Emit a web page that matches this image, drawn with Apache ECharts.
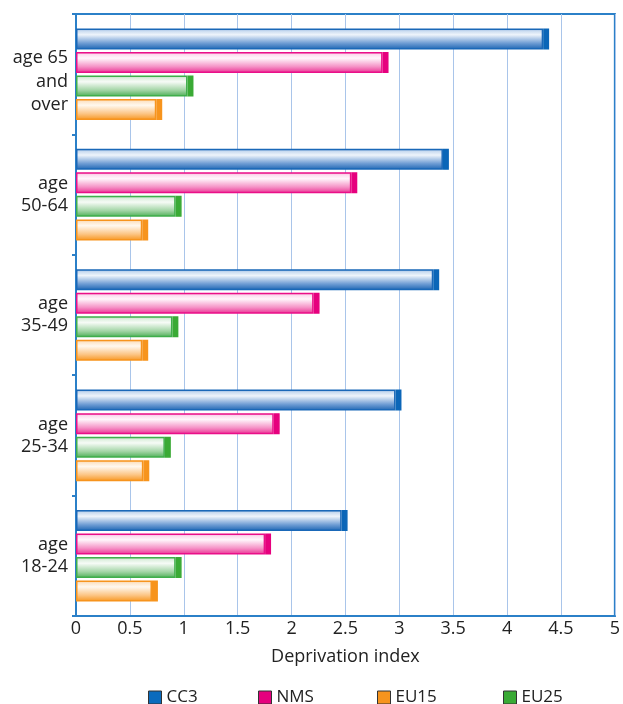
<!DOCTYPE html>
<html>
<head>
<meta charset="utf-8">
<script src="https://cdn.jsdelivr.net/npm/echarts@6/dist/echarts.min.js"></script>
<style>
html,body{margin:0;padding:0;background:#fff;}
#chart{width:623px;height:704px;}
</style>
</head>
<body>
<div id="chart"></div>
<script>
// Categories listed bottom to top
const categories = ['age\n18-24', 'age\n25-34', 'age\n35-49', 'age\n50-64', 'age 65\nand\nover'];
const cc3  = [2.52, 3.02, 3.37, 3.46, 4.39];
const nms  = [1.81, 1.89, 2.26, 2.61, 2.90];
const eu25 = [0.98, 0.88, 0.95, 0.98, 1.09];
const eu15 = [0.76, 0.68, 0.67, 0.67, 0.80];
const xTicks = [0, 0.5, 1, 1.5, 2, 2.5, 3, 3.5, 4, 4.5, 5];
const legendNames = ['CC3', 'NMS', 'EU15', 'EU25'];

const FONT = '"Open Sans", "Noto Sans", sans-serif';
const AXIS_BLUE = '#2b80c8';
const CAP = 0.055; // width of the darker end cap, in axis units

function grad(stops) {
  return new echarts.graphic.LinearGradient(0, 0, 0, 1,
    stops.map(s => ({offset: s[0], color: s[1]})));
}
const styles = {
  CC3:  {fill: grad([[0,'#7fa8da'],[0.12,'#c9dbf0'],[0.3,'#eef4fb'],[0.7,'#6f9dd4'],[1,'#1c65b3']]),
         border: '#1a68b8', cap: '#0b66b8', legend: '#0b6bbd'},
  NMS:  {fill: grad([[0,'#f6a6d0'],[0.12,'#fcdcee'],[0.3,'#fff6fb'],[0.7,'#f592c6'],[1,'#ea3093']]),
         border: '#ea0f89', cap: '#e6007e', legend: '#e6007e'},
  EU25: {fill: grad([[0,'#acd9ae'],[0.12,'#dcefdd'],[0.3,'#f6fbf6'],[0.7,'#a3d5a6'],[1,'#4cae55']]),
         border: '#3fae4b', cap: '#3aaa35', legend: '#3aaa35'},
  EU15: {fill: grad([[0,'#fbd0a0'],[0.12,'#fde6cb'],[0.3,'#fff8ef'],[0.7,'#fcc584'],[1,'#f7961f']]),
         border: '#f7941d', cap: '#f7941d', legend: '#f7941d'}
};
const seriesData = {CC3: cc3, NMS: nms, EU25: eu25, EU15: eu15};
const seriesOrder = ['CC3', 'NMS', 'EU25', 'EU15'];

const chart = echarts.init(document.getElementById('chart'));

const legendLefts = [143, 253, 372, 498];
const legends = legendNames.map((n, i) => ({
  data: [{name: n, itemStyle: {color: styles[n].legend, borderColor: '#333', borderWidth: 1}}],
  left: legendLefts[i],
  top: 684,
  icon: 'rect',
  itemWidth: 13,
  itemHeight: 13,
  itemGap: 0,
  textStyle: {fontFamily: FONT, fontSize: 17, color: '#222'}
}));

const series = [];
seriesOrder.forEach(n => {
  series.push({
    name: n, type: 'bar', stack: n,
    data: seriesData[n].map(v => v - CAP),
    barWidth: 21, barGap: '12%',
    itemStyle: {color: styles[n].fill, borderColor: styles[n].border, borderWidth: 1.5}
  });
  series.push({
    name: n, type: 'bar', stack: n,
    data: seriesData[n].map(() => CAP),
    barWidth: 21, barGap: '12%',
    itemStyle: {color: styles[n].cap, borderColor: styles[n].cap, borderWidth: 1.5}
  });
});

chart.setOption({
  animation: false,
  backgroundColor: '#fff',
  textStyle: {fontFamily: FONT},
  legend: legends,
  grid: {
    left: 76, right: 3, top: 14, bottom: 88,
    show: true, borderColor: AXIS_BLUE, borderWidth: 2, backgroundColor: 'transparent'
  },
  xAxis: {
    type: 'value',
    min: 0, max: 5, interval: 0.5,
    name: 'Deprivation index',
    nameLocation: 'middle',
    nameGap: 32,
    nameTextStyle: {fontFamily: FONT, fontSize: 18, color: '#222'},
    axisLine: {show: true, lineStyle: {color: AXIS_BLUE, width: 2}},
    axisTick: {show: false},
    splitLine: {show: true, lineStyle: {color: '#a9c5ea', width: 1}},
    axisLabel: {
      fontFamily: FONT, fontSize: 18, color: '#222', margin: 4,
      formatter: v => xTicks.includes(v) ? String(v) : ''
    }
  },
  yAxis: {
    type: 'category',
    data: categories,
    axisLine: {show: true, lineStyle: {color: AXIS_BLUE, width: 2}},
    axisTick: {show: true, length: 4, lineStyle: {color: AXIS_BLUE, width: 2}},
    axisLabel: {
      fontFamily: FONT, fontSize: 18, color: '#222', margin: 8,
      lineHeight: 22, align: 'right',
      formatter: v => {
        const lines = v.split('\n');
        if (lines.length > 2) {
          return lines.map(l => '{t|' + l + '}').join('\n');
        }
        return v;
      },
      rich: {
        t: {fontFamily: FONT, fontSize: 18, color: '#222', lineHeight: 23.5, padding: [15, 0, 0, 0]}
      }
    },
    splitLine: {show: false}
  },
  series: series
});
</script>
</body>
</html>
